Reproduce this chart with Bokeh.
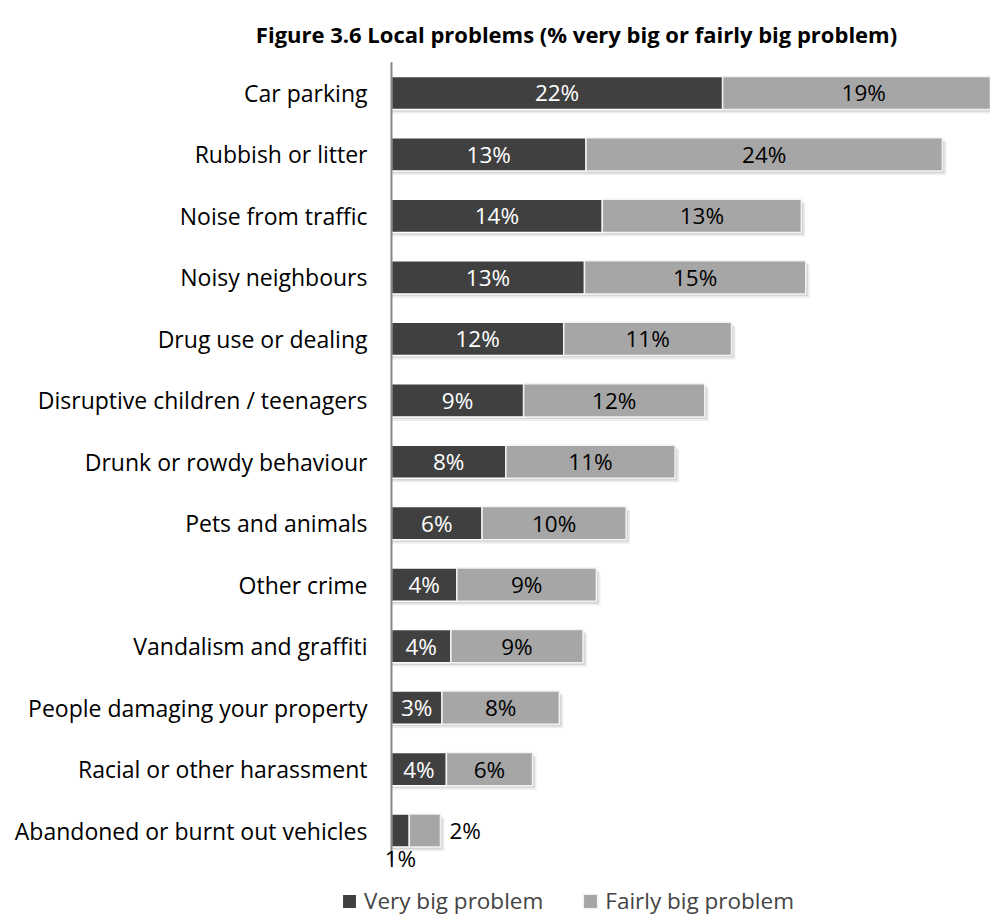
from bokeh.plotting import figure
from bokeh.models import Range1d, Label, Legend, LegendItem, ColumnDataSource
from bokeh.core.properties import value
from bokeh.embed import file_html
from bokeh.resources import INLINE

categories = [
    "Car parking",
    "Rubbish or litter",
    "Noise from traffic",
    "Noisy neighbours",
    "Drug use or dealing",
    "Disruptive children / teenagers",
    "Drunk or rowdy behaviour",
    "Pets and animals",
    "Other crime",
    "Vandalism and graffiti",
    "People damaging your property",
    "Racial or other harassment",
    "Abandoned or burnt out vehicles",
]
very_big = [22.3, 13.1, 14.2, 13.0, 11.6, 8.9, 7.7, 6.1, 4.4, 4.0, 3.4, 3.7, 1.2]
fairly_big = [19.0, 24.0, 13.4, 14.9, 11.3, 12.2, 11.4, 9.7, 9.4, 8.9, 7.9, 5.8, 2.1]
series_names = ["Very big problem", "Fairly big problem"]
title_text = "Figure 3.6 Local problems (% very big or fairly big problem)"

DARK = "#404040"
LIGHT = "#a6a6a6"
FONT = "Open Sans"
FS = "22.5px"
BAR_H = 0.54

n = len(categories)
ys = list(range(n))
totals = [a + b for a, b in zip(very_big, fairly_big)]

src = ColumnDataSource(dict(y=ys, very=very_big, total=totals))

p = figure(
    width=990, height=916,
    x_range=Range1d(-26.33, 40.34), y_range=Range1d(13.399, -1.505),
    x_axis_location=None, y_axis_location=None,
    output_backend="svg", toolbar_location=None,
    min_border_left=0, min_border_right=0, min_border_top=0, min_border_bottom=0,
)
p.title.visible = False
p.outline_line_color = None
p.grid.visible = False
p.background_fill_color = "white"

# soft shadows
for dy, dx, a in [(0.065, 0.27, 0.07), (0.035, 0.14, 0.10)]:
    p.hbar(y=[v + dy for v in ys], left=[0.05] * n, right=[t + dx for t in totals],
           height=BAR_H, fill_color="black", fill_alpha=a, line_color=None)

r1 = p.hbar(y="y", left=0, right="very", height=BAR_H, source=src,
            fill_color=DARK, line_color="white", line_width=1.5)
r2 = p.hbar(y="y", left="very", right="total", height=BAR_H, source=src,
            fill_color=LIGHT, line_color="#f2f2f2", line_width=1.5)

# category axis: line at x = 0 and right-aligned category labels
p.segment(x0=[0], y0=[-0.5], x1=[0], y1=[n - 0.5], line_color="#868686", line_width=2)
p.text(x=[0] * n, y=ys, text=categories, x_offset=-24, text_align="right",
       text_baseline="middle", text_font=value(FONT), text_font_size="23px",
       text_color="black")

# value labels
in_d = dict(x=[], y=[], t=[])
out_d = dict(x=[], y=[], t=[])
in_l = dict(x=[], y=[], t=[])
out_l = dict(x=[], y=[], t=[])
for i, (v, f, t) in enumerate(zip(very_big, fairly_big, totals)):
    if v < 2:
        out_d["x"].append(v / 2); out_d["y"].append(i + 0.45); out_d["t"].append(f"{round(v)}%")
    else:
        in_d["x"].append(v / 2); in_d["y"].append(i); in_d["t"].append(f"{round(v)}%")
    if t < 5:
        out_l["x"].append(t + 0.6); out_l["y"].append(i); out_l["t"].append(f"{round(f)}%")
    else:
        in_l["x"].append(v + f / 2); in_l["y"].append(i); in_l["t"].append(f"{round(f)}%")

common = dict(text_font=value(FONT), text_font_size=FS, text_baseline="middle")
p.text(x="x", y="y", text="t", source=ColumnDataSource(in_d), text_color="white",
       text_align="center", **common)
p.text(x="x", y="y", text="t", source=ColumnDataSource(out_d), text_color="black",
       text_align="center", **common)
p.text(x="x", y="y", text="t", source=ColumnDataSource(in_l), text_color="black",
       text_align="center", **common)
p.text(x="x", y="y", text="t", source=ColumnDataSource(out_l), text_color="black",
       text_align="left", **common)

# title
p.add_layout(Label(x=12.46, y=-0.968, text=title_text, text_font=FONT, text_font_style="bold",
                   text_font_size="22px", text_align="center", text_baseline="middle",
                   text_color="black"))

legend = Legend(
    items=[LegendItem(label=series_names[0], renderers=[r1]),
           LegendItem(label=series_names[1], renderers=[r2])],
    orientation="horizontal", location=(340, 0),
    glyph_width=18, glyph_height=18, label_standoff=6, spacing=38,
    padding=0, margin=0, border_line_color=None, background_fill_alpha=0,
    label_text_font=FONT, label_text_font_size=FS, label_height=26,
)
p.add_layout(legend)

open("out.html", "w").write(file_html(p, INLINE))
